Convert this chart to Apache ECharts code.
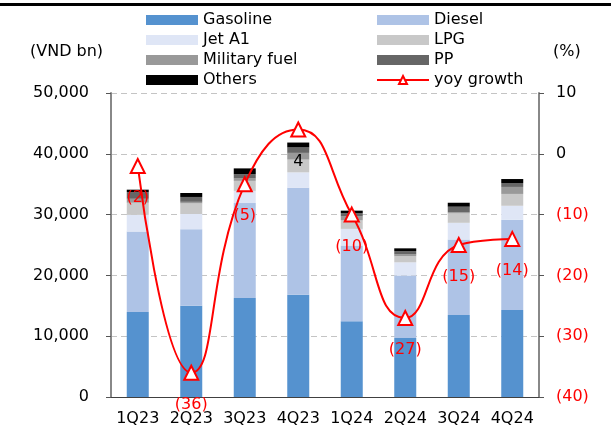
<!DOCTYPE html>
<html>
<head>
<meta charset="utf-8">
<script src="https://cdn.jsdelivr.net/npm/echarts@6/dist/echarts.min.js"></script>
<style>
  html, body { margin: 0; padding: 0; background: #fff; }
  #chart { width: 611px; height: 434px; }
</style>
</head>
<body>
<div id="chart"></div>
<script>
// Quarterly sales volume by product (VND bn) and year-on-year growth (%)
const categories = ['1Q23', '2Q23', '3Q23', '4Q23', '1Q24', '2Q24', '3Q24', '4Q24'];
const gasoline = [14000, 15000, 16300, 16800, 12450, 9700, 13500, 14300];
const diesel   = [13200, 12600, 15600, 17600, 12450, 10300, 12400, 14850];
const jetA1    = [2750, 2500, 2000, 2550, 2750, 2150, 2750, 2300];
const lpg      = [2000, 1750, 1650, 2100, 1400, 1000, 1550, 1950];
const military = [650, 250, 400, 1100, 650, 300, 200, 1150];
const pp       = [1100, 800, 700, 900, 550, 550, 900, 650];
const others   = [400, 650, 950, 800, 400, 450, 650, 650];
const yoyGrowth = [-2, -36, -5, 4, -10, -27, -15, -14];
const leftTicks = { min: 0, max: 50000, interval: 10000 };
const rightTicks = { min: -40, max: 10, interval: 10 };

const FONT = 'DejaVu Sans';
const RED = '#FF0000';
const paren = v => (v < 0 ? '(' + (-v) + ')' : String(v));

const barSeries = [
  ['Gasoline', gasoline, '#5592CF'],
  ['Diesel', diesel, '#AEC3E6'],
  ['Jet A1', jetA1, '#DFE6F6'],
  ['LPG', lpg, '#C8C8C8'],
  ['Military fuel', military, '#999999'],
  ['PP', pp, '#666666'],
  ['Others', others, '#000000']
].map(([name, data, color]) => ({
  name, type: 'bar', stack: 'vol', data, barWidth: 22,
  itemStyle: { color }, emphasis: { disabled: true }
}));

const lineSeries = {
  name: 'yoy growth', type: 'line', yAxisIndex: 1, smooth: 0.5,
  data: yoyGrowth.map(v => ({
    value: v,
    label: { color: v >= 0 ? '#000' : RED }
  })),
  symbol: 'triangle', symbolSize: 14,
  lineStyle: { color: RED, width: 2 },
  itemStyle: { color: '#fff', borderColor: RED, borderWidth: 2 },
  label: {
    show: true, position: 'bottom', distance: 16,
    fontFamily: FONT, fontSize: 16,
    formatter: p => paren(p.value)
  },
  z: 5, emphasis: { disabled: true }
};

const legendText = { fontFamily: FONT, fontSize: 16, color: '#000', lineHeight: 16 };
const legendBase = {
  orient: 'vertical', top: 12, padding: 0, itemWidth: 52, itemHeight: 10, itemGap: 4,
  textStyle: legendText, selectedMode: false
};
const barNames = ['Gasoline', 'Diesel', 'Jet A1', 'LPG', 'Military fuel', 'PP', 'Others'];
const legendItem = n => (barNames.includes(n) ? { name: n, icon: 'rect' } : { name: n });

const chart = echarts.init(document.getElementById('chart'), null, { renderer: 'canvas' });
chart.setOption({
  animation: false,
  backgroundColor: '#fff',
  textStyle: { fontFamily: FONT },
  grid: { left: 111, right: 72, top: 93, bottom: 37 },
  legend: [
    Object.assign({}, legendBase, { left: 146, data: ['Gasoline', 'Jet A1', 'Military fuel', 'Others'].map(legendItem) }),
    Object.assign({}, legendBase, { left: 376, data: ['Diesel', 'LPG', 'PP', 'yoy growth'].map(legendItem) })
  ],
  graphic: [
    { type: 'rect', left: 0, top: 3, shape: { width: 611, height: 3 }, style: { fill: '#000' } },
    { type: 'text', left: 30, top: 44, style: { text: '(VND bn)', font: '16px "DejaVu Sans"', fill: '#000' } },
    { type: 'text', left: 553, top: 44, style: { text: '(%)', font: '16px "DejaVu Sans"', fill: '#000' } }
  ],
  xAxis: {
    type: 'category', data: categories,
    axisLine: { lineStyle: { color: '#404040', width: 1 } },
    axisTick: { inside: true, length: 6, lineStyle: { color: '#404040' } },
    axisLabel: { fontFamily: FONT, fontSize: 16, color: '#000', margin: 14, interval: 0 }
  },
  yAxis: [
    {
      type: 'value', min: leftTicks.min, max: leftTicks.max, interval: leftTicks.interval,
      axisLine: { show: true, lineStyle: { color: '#888', width: 2 } },
      axisTick: { show: true, length: 5, lineStyle: { color: '#555' } },
      splitLine: { lineStyle: { color: '#C4C4C4', type: [6, 4] } },
      axisLabel: {
        fontFamily: FONT, fontSize: 16, color: '#000', margin: 22,
        formatter: v => v.toLocaleString('en-US')
      }
    },
    {
      type: 'value', min: rightTicks.min, max: rightTicks.max, interval: rightTicks.interval,
      position: 'right',
      axisLine: { show: true, lineStyle: { color: '#888', width: 2 } },
      axisTick: { show: true, length: 5, lineStyle: { color: '#555' } },
      splitLine: { show: false },
      axisLabel: {
        fontFamily: FONT, fontSize: 16, color: '#000', margin: 17,
        formatter: v => (v < 0 ? '{neg|' + paren(v) + '}' : String(v)),
        rich: { neg: { color: RED, fontFamily: FONT, fontSize: 16 } }
      }
    }
  ],
  series: barSeries.concat([lineSeries])
});
</script>
</body>
</html>
